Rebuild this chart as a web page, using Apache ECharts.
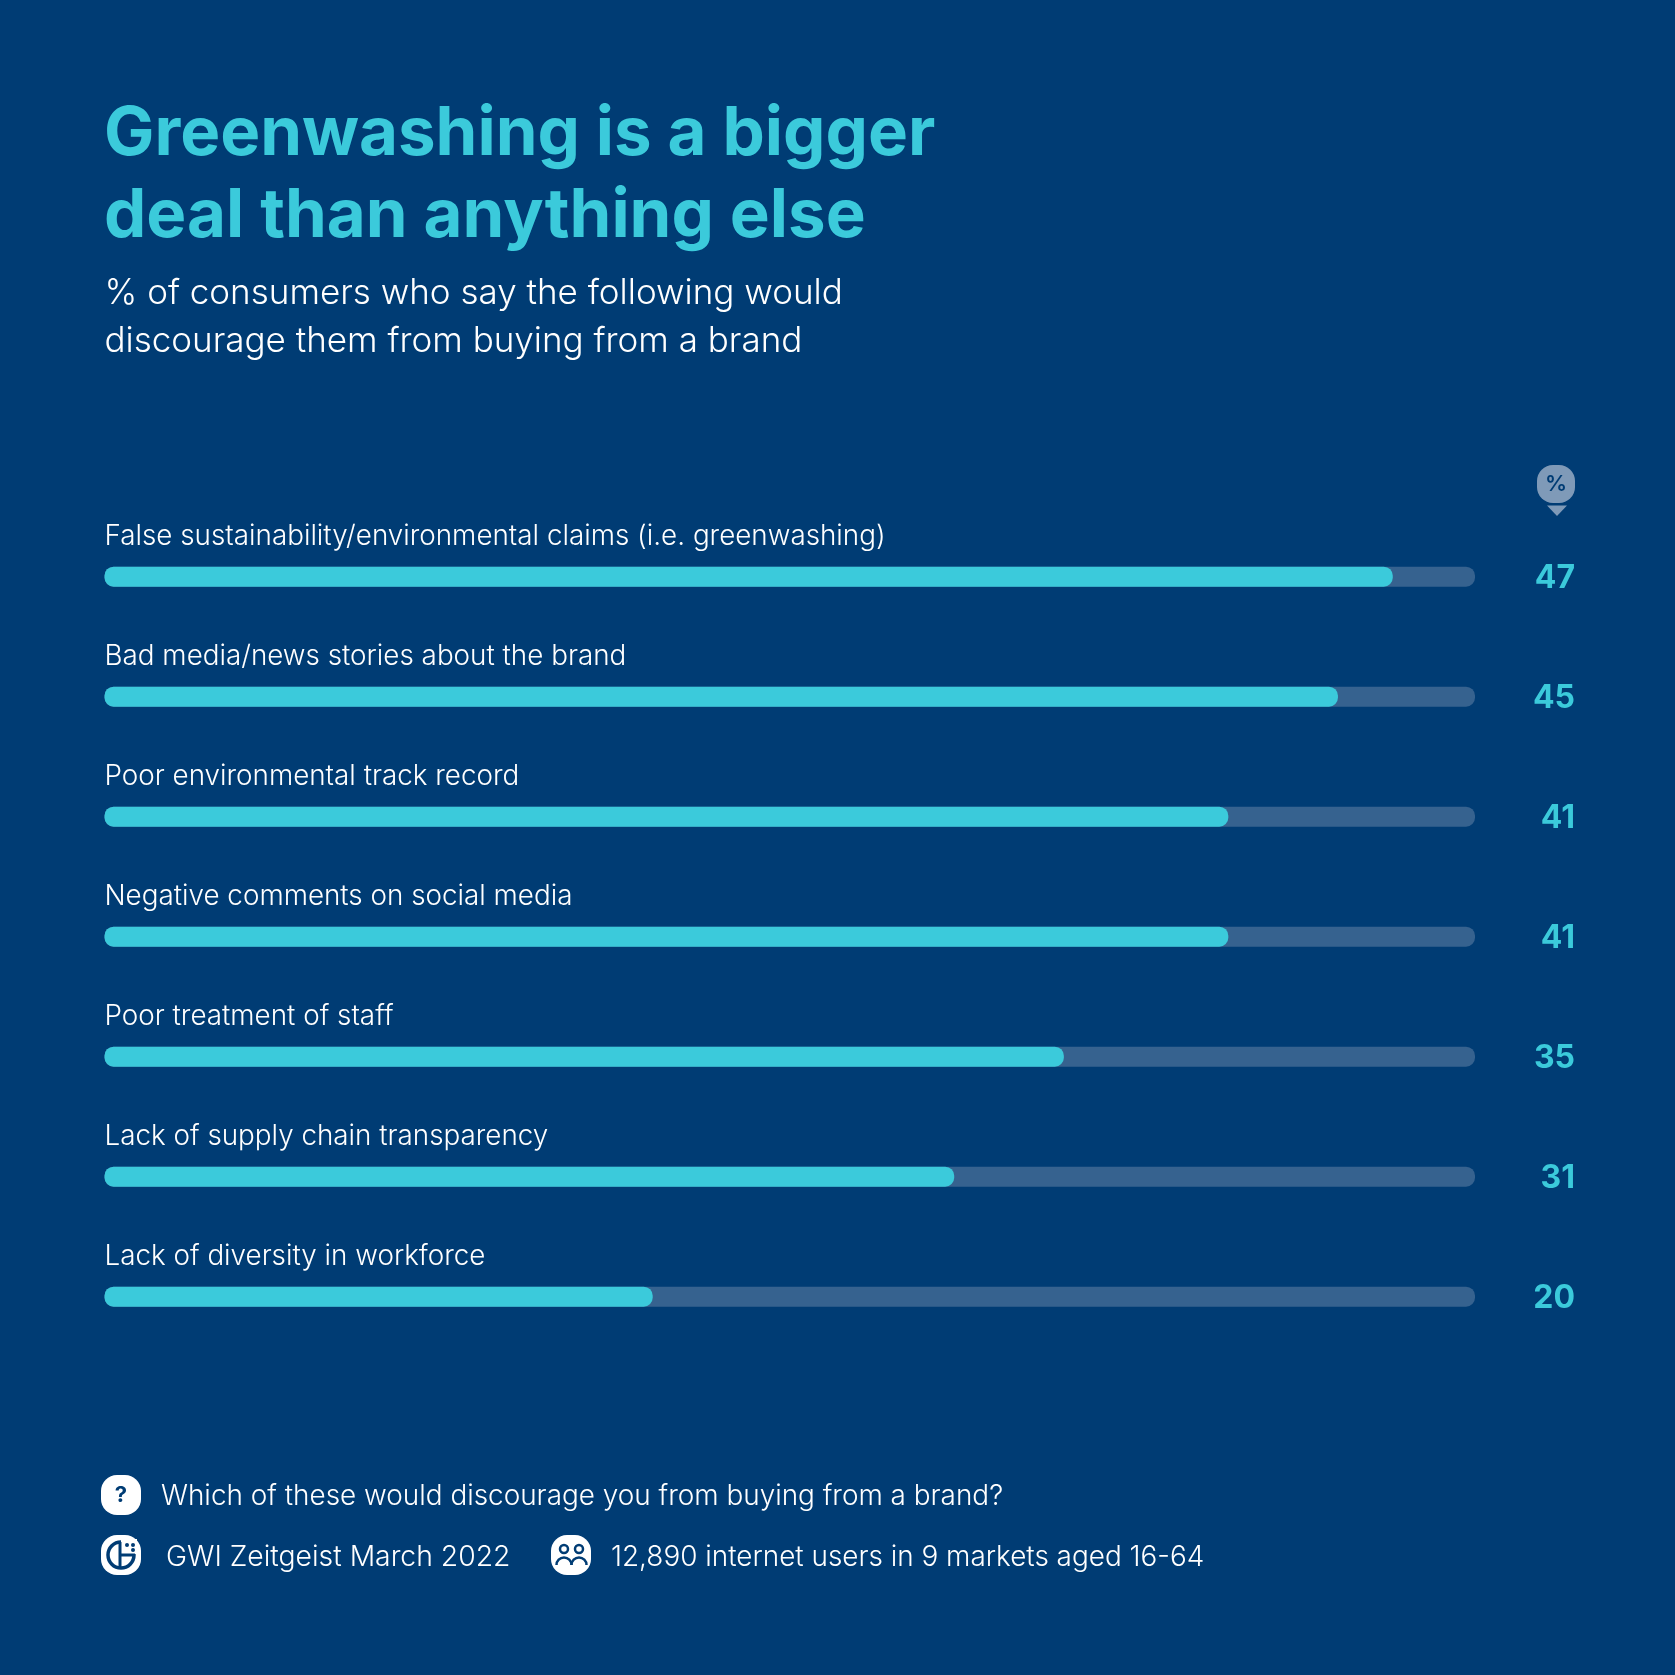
<!DOCTYPE html>
<html><head><meta charset="utf-8">
<style>html,body{margin:0;padding:0;background:#003c74}#c{width:1675px;height:1675px}</style>
<script src="https://cdn.jsdelivr.net/npm/echarts@6/dist/echarts.min.js"></script>
</head><body><div id="c"></div>
<script>
const categories = ["False sustainability/environmental claims (i.e. greenwashing)","Bad media/news stories about the brand","Poor environmental track record","Negative comments on social media","Poor treatment of staff","Lack of supply chain transparency","Lack of diversity in workforce"];
const values = [47,45,41,41,35,31,20];
const scaleMax = 50;
const titleLines = "Greenwashing is a bigger\ndeal than anything else";
const subtitleLines = "% of consumers who say the following would\ndiscourage them from buying from a brand";
const question = "Which of these would discourage you from buying from a brand?";
const source = "GWI Zeitgeist March 2022";
const sample = "12,890 internet users in 9 markets aged 16-64";

const BG="#003c74", TEAL="#3bcadb", TRACK="#36628f", BADGE="#7f9ab8";
const FONT="Inter", WHITE="#ffffff";

function squircle(x,y,s,fill){return {type:'rect',shape:{x,y,width:s,height:s,r:16},style:{fill}};}
const chart=echarts.init(document.getElementById('c'));
chart.setOption({
  backgroundColor:BG,
  animation:false,
  grid:{left:104.5,top:516.7,width:1370.5,height:840,containLabel:false},
  xAxis:{type:'value',min:0,max:scaleMax,show:false},
  yAxis:{type:'category',inverse:true,data:categories,show:false},
  series:[
   {type:'bar',data:values.map(()=>scaleMax),barWidth:20,barGap:'-100%',z:1,silent:true,
    itemStyle:{color:TRACK,borderRadius:9},
    label:{show:true,position:'right',distance:100,align:'right',verticalAlign:'middle',offset:[0,2],
      formatter:p=>String(values[p.dataIndex]),color:TEAL,fontFamily:FONT,fontSize:32,fontWeight:700}},
   {type:'bar',data:values,barWidth:20,barGap:'-100%',z:2,
    itemStyle:{color:TEAL,borderRadius:9},
    label:{show:true,position:[0,-30.5],align:'left',verticalAlign:'middle',
      formatter:p=>p.name,color:WHITE,fontFamily:FONT,fontSize:27.8,fontWeight:300}}
  ],
  graphic:[
    {type:'text',x:104,y:175.5,style:{text:titleLines,fontFamily:FONT,fontSize:67.2,fontWeight:700,lineHeight:82,fill:TEAL,verticalAlign:'middle'}},
    {type:'text',x:104.5,y:317.5,style:{text:subtitleLines,fontFamily:FONT,fontSize:35,fontWeight:300,lineHeight:48,fill:WHITE,verticalAlign:'middle'}},
    {type:'rect',shape:{x:1537,y:465,width:38,height:38,r:16},style:{fill:BADGE}},
    {type:'polygon',shape:{points:[[1547,505.5],[1567,505.5],[1557,516]]},style:{fill:BADGE}},
    {type:'text',x:1556,y:484,style:{text:'%',fontFamily:FONT,fontSize:22,fontWeight:600,fill:BG,align:'center',verticalAlign:'middle'}},
    squircle(101,1475,40,WHITE),
    {type:'text',x:121,y:1495,style:{text:'?',fontFamily:FONT,fontSize:22,fontWeight:700,fill:BG,align:'center',verticalAlign:'middle'}},
    {type:'text',x:161,y:1497,style:{text:question,fontFamily:FONT,fontSize:27.9,fontWeight:300,fill:WHITE,verticalAlign:'middle'}},
    squircle(101,1535,40,WHITE),
    {type:'circle',shape:{cx:121,cy:1555,r:13},style:{fill:'none',stroke:BG,lineWidth:3.5}},
    {type:'rect',shape:{x:121,y:1539,width:16,height:15},style:{fill:WHITE}},
    {type:'line',shape:{x1:120,y1:1542,x2:120,y2:1568},style:{stroke:BG,lineWidth:3}},
    {type:'line',shape:{x1:120,y1:1555,x2:135,y2:1555},style:{stroke:BG,lineWidth:3}},
    {type:'circle',shape:{cx:127,cy:1545,r:2},style:{fill:BG}},
    {type:'circle',shape:{cx:133,cy:1545,r:2},style:{fill:BG}},
    {type:'circle',shape:{cx:133,cy:1550,r:2},style:{fill:BG}},
    {type:'text',x:166,y:1557.5,style:{text:source,fontFamily:FONT,fontSize:28.3,fontWeight:300,fill:WHITE,verticalAlign:'middle'}},
    squircle(551,1535,40,WHITE),
    {type:'circle',shape:{cx:564,cy:1549,r:4},style:{fill:'none',stroke:BG,lineWidth:2.5}},
    {type:'circle',shape:{cx:579,cy:1549,r:4},style:{fill:'none',stroke:BG,lineWidth:2.5}},
    {type:'arc',shape:{cx:564,cy:1565,r:7.5,startAngle:Math.PI,endAngle:0,clockwise:true},style:{fill:'none',stroke:BG,lineWidth:2.5}},
    {type:'arc',shape:{cx:579,cy:1565,r:7.5,startAngle:Math.PI,endAngle:0,clockwise:true},style:{fill:'none',stroke:BG,lineWidth:2.5}},
    {type:'text',x:611,y:1557.5,style:{text:sample,fontFamily:FONT,fontSize:27.9,fontWeight:300,fill:WHITE,verticalAlign:'middle'}}
  ]
});
</script></body></html>
